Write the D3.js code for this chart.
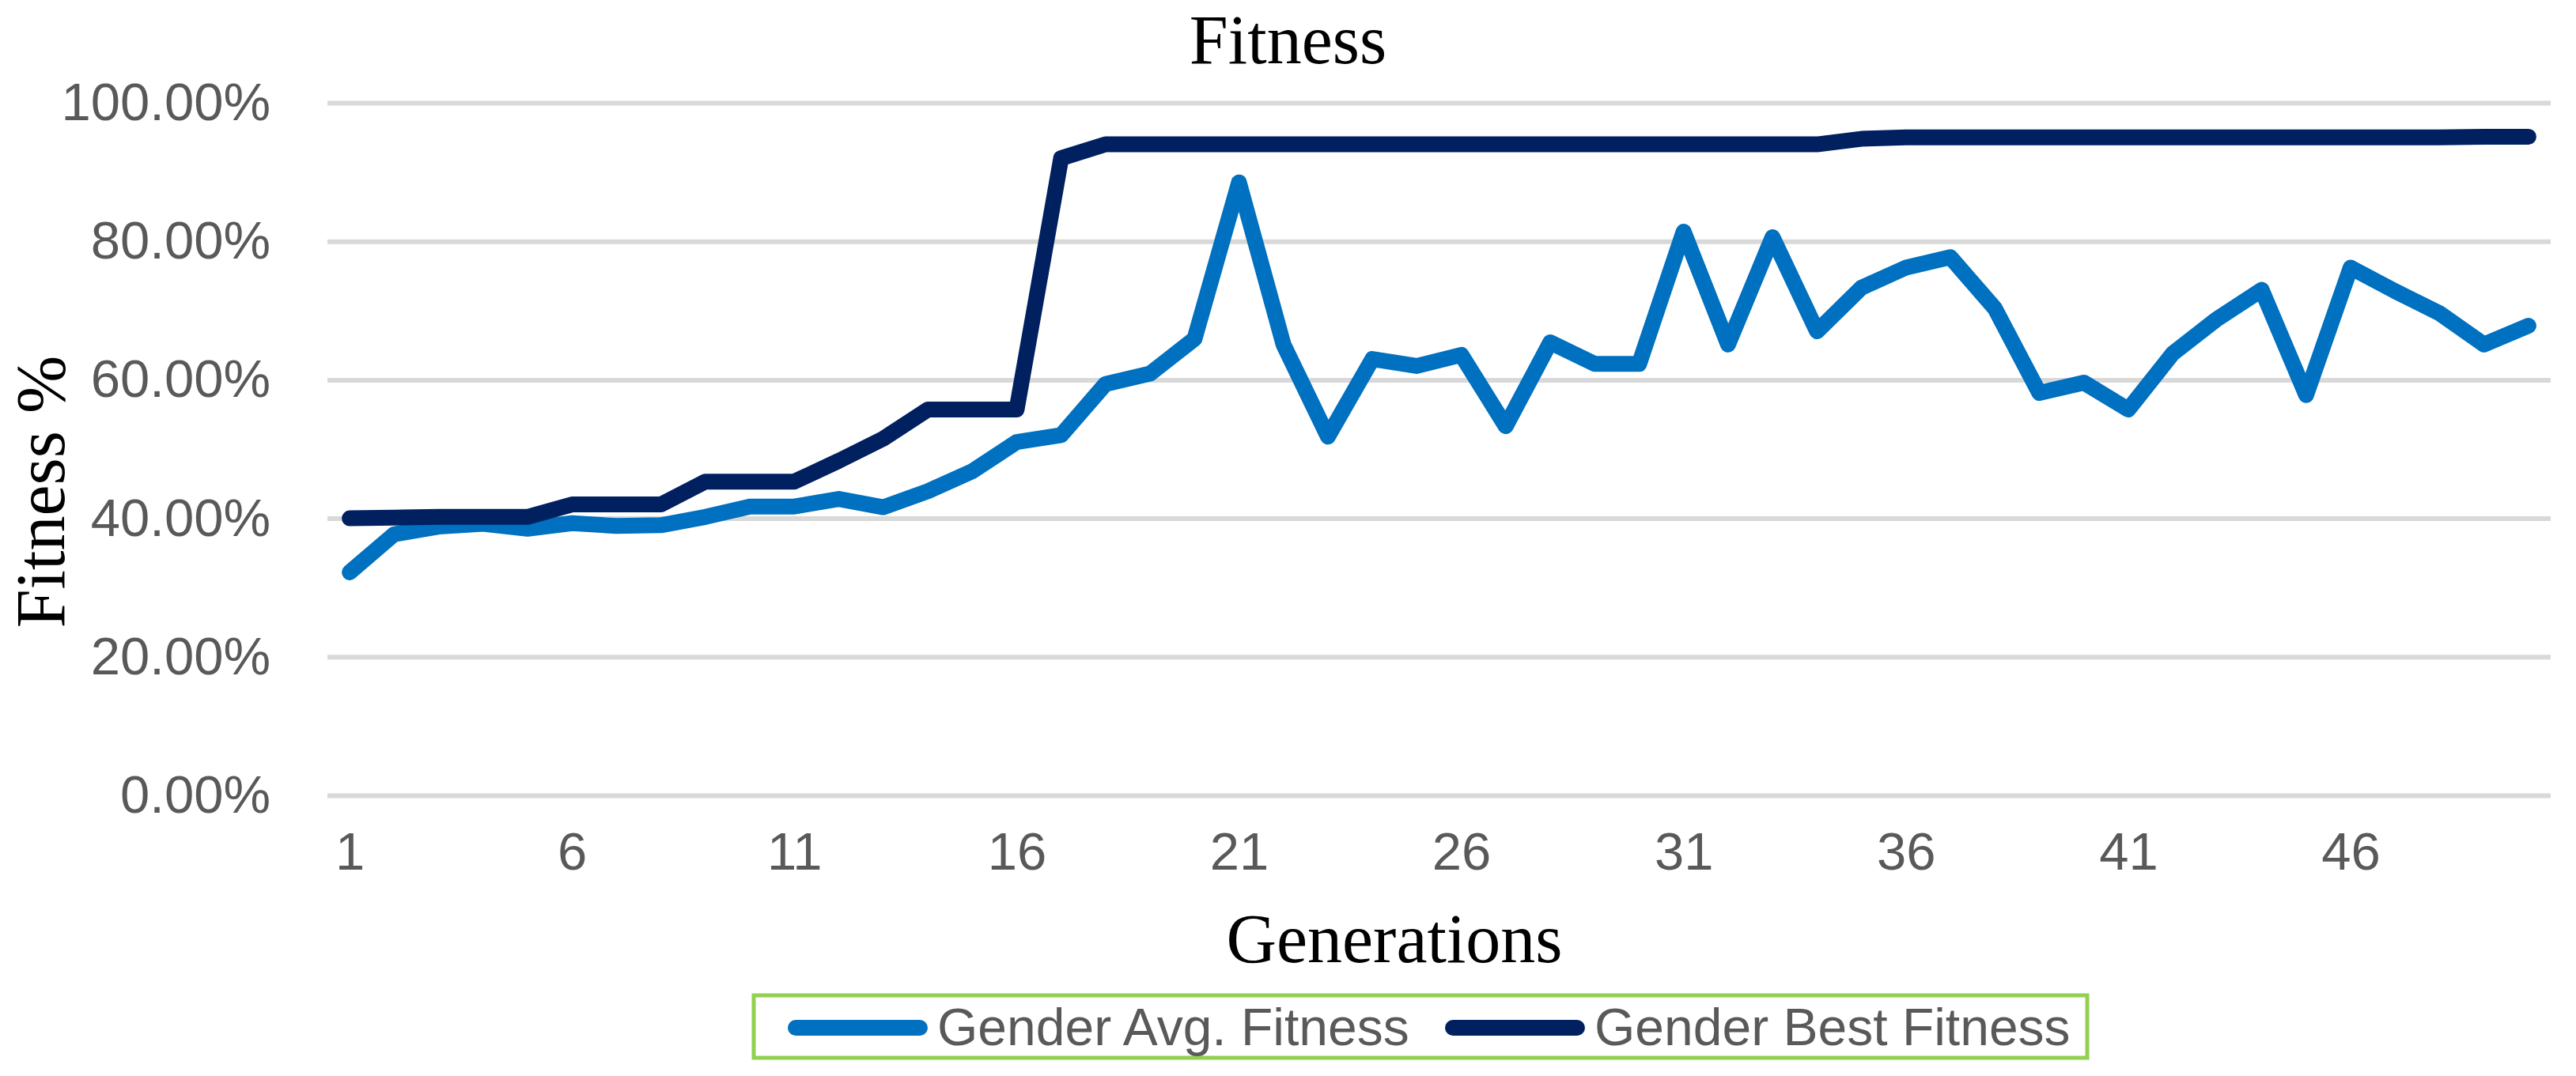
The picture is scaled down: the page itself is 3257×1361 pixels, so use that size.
<!DOCTYPE html>
<html>
<head>
<meta charset="utf-8">
<script src="https://cdn.jsdelivr.net/npm/d3@7"></script>
<style>
  html, body { margin: 0; padding: 0; background: #ffffff; }
  svg { display: block; }
</style>
</head>
<body>
<script>
// ---------- data ----------
const generations = ["1","2","3","4","5","6","7","8","9","10","11","12","13","14","15","16","17","18","19","20","21","22","23","24","25","26","27","28","29","30","31","32","33","34","35","36","37","38","39","40","41","42","43","44","45","46","47","48","49","50"];
const xTickLabels = ["1","6","11","16","21","26","31","36","41","46"];
const yTickValues = [0, 0.2, 0.4, 0.6, 0.8, 1.0];
const avgFitness = [32.2, 37.7, 38.8, 39.2, 38.5, 39.3, 38.9, 39.0, 40.2, 41.7, 41.7, 42.8, 41.6, 43.9, 46.8, 51.0, 52.0, 59.4, 60.9, 65.9, 88.5, 65.1, 51.8, 63.0, 62.0, 63.6, 53.3, 65.4, 62.3, 62.3, 81.4, 65.1, 80.6, 67.0, 73.3, 76.2, 77.7, 70.3, 58.1, 59.6, 55.7, 63.8, 68.8, 73.0, 57.8, 76.2, 72.8, 69.6, 65.1, 67.8];
const bestFitness = [40.0, 40.1, 40.2, 40.2, 40.2, 42.0, 42.0, 42.0, 45.3, 45.3, 45.3, 48.3, 51.5, 55.7, 55.7, 55.7, 92.0, 94.0, 94.0, 94.0, 94.0, 94.0, 94.0, 94.0, 94.0, 94.0, 94.0, 94.0, 94.0, 94.0, 94.0, 94.0, 94.0, 94.0, 94.8, 95.0, 95.0, 95.0, 95.0, 95.0, 95.0, 95.0, 95.0, 95.0, 95.0, 95.0, 95.0, 95.0, 95.1, 95.1];
const seriesNames = ["Gender Avg. Fitness", "Gender Best Fitness"];
const seriesColors = ["#0070C0", "#002060"];
const chartTitle = "Fitness";
const xTitle = "Generations";
const yTitle = "Fitness %";

// ---------- layout ----------
const W = 3257, H = 1361;
const plot = { left: 414, right: 3225, top: 130, bottom: 1006 };

const svg = d3.select("body").append("svg")
  .attr("width", W).attr("height", H)
  .attr("viewBox", `0 0 ${W} ${H}`);
svg.append("rect").attr("width", W).attr("height", H).attr("fill", "#ffffff");

const x = d3.scalePoint().domain(generations).range([plot.left, plot.right]).padding(0.5);
const y = d3.scaleLinear().domain([0, 1]).range([plot.bottom, plot.top]);

const tickFont = "'Liberation Sans', Arial, sans-serif";
const serifFont = "'Liberation Serif', 'Times New Roman', serif";

// gridlines
const grid = svg.append("g").attr("transform", `translate(${plot.left},0)`)
  .call(d3.axisLeft(y).tickValues(yTickValues).tickSize(-(plot.right - plot.left)).tickFormat(""));
grid.select(".domain").remove();
grid.selectAll(".tick line").attr("stroke", "#D9D9D9").attr("stroke-width", 6);

// y axis labels
const yAxis = svg.append("g").attr("transform", `translate(${plot.left},0)`)
  .call(d3.axisLeft(y).tickValues(yTickValues).tickSize(0).tickPadding(72).tickFormat(d3.format(".2%")));
yAxis.select(".domain").remove();
yAxis.selectAll("text").attr("font-family", tickFont).attr("font-size", 67).attr("fill", "#595959");

// x axis labels
const xAxis = svg.append("g").attr("transform", `translate(0,${plot.bottom})`)
  .call(d3.axisBottom(x).tickValues(xTickLabels).tickSize(0).tickPadding(46));
xAxis.select(".domain").remove();
xAxis.selectAll("text").attr("font-family", tickFont).attr("font-size", 67).attr("fill", "#595959");

// lines
const line = d3.line().x((d, i) => x(generations[i])).y(d => y(d / 100));
[avgFitness, bestFitness].forEach((s, k) => {
  svg.append("path").datum(s)
    .attr("d", line)
    .attr("fill", "none")
    .attr("stroke", seriesColors[k])
    .attr("stroke-width", 20)
    .attr("stroke-linecap", "round")
    .attr("stroke-linejoin", "round");
});

// titles
svg.append("text").attr("x", W / 2).attr("y", 80)
  .attr("text-anchor", "middle").attr("font-family", serifFont).attr("font-size", 88)
  .attr("fill", "#000").text(chartTitle);
svg.append("text").attr("x", 1763).attr("y", 1217)
  .attr("text-anchor", "middle").attr("font-family", serifFont).attr("font-size", 88)
  .attr("fill", "#000").text(xTitle);
svg.append("text").attr("transform", "translate(81,622) rotate(-90)")
  .attr("text-anchor", "middle").attr("font-family", serifFont).attr("font-size", 88)
  .attr("fill", "#000").text(yTitle);

// legend
const legend = svg.append("g");
legend.append("rect").attr("x", 953).attr("y", 1259).attr("width", 1686).attr("height", 79)
  .attr("fill", "#fff").attr("stroke", "#92D050").attr("stroke-width", 5);
const legendItems = [{ lx: 1006, tx: 1185 }, { lx: 1837, tx: 2016 }];
legendItems.forEach((it, k) => {
  legend.append("line").attr("x1", it.lx).attr("x2", it.lx + 157).attr("y1", 1300).attr("y2", 1300)
    .attr("stroke", seriesColors[k]).attr("stroke-width", 20).attr("stroke-linecap", "round");
  legend.append("text").attr("x", it.tx).attr("y", 1322)
    .attr("font-family", tickFont).attr("font-size", 66).attr("fill", "#595959")
    .text(seriesNames[k]);
});
</script>
</body>
</html>
